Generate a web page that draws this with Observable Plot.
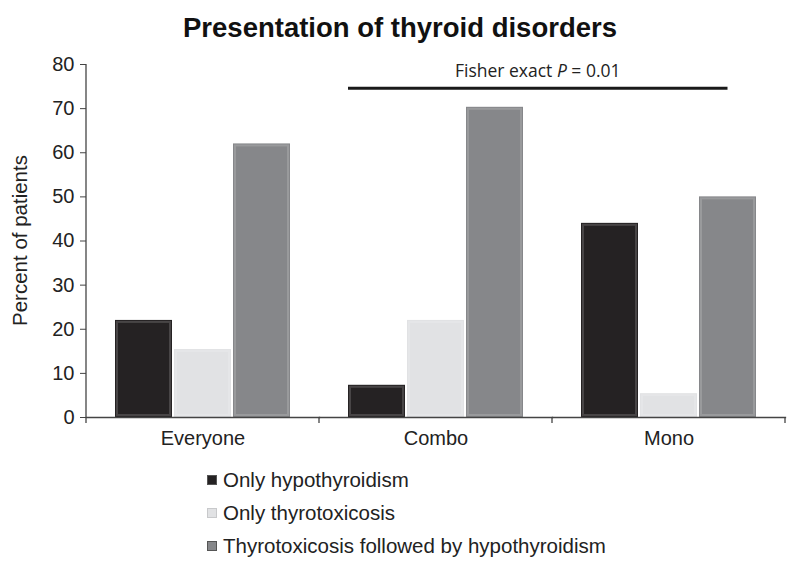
<!DOCTYPE html>
<html><head>
<meta charset="utf-8">
<script src="https://cdn.jsdelivr.net/npm/d3@7"></script>
<script src="https://cdn.jsdelivr.net/npm/@observablehq/plot@0.6"></script>
<style>
body{margin:0;background:#fff;font-family:"Liberation Sans",Arial,sans-serif;color:#222;}
#title{height:50px;line-height:56px;text-align:center;font-weight:bold;font-size:27.5px;color:#111;}
#chart svg{display:block;}
#legend{padding-top:8px;padding-left:207px;font-size:20.5px;}
#legend .row{display:flex;align-items:center;height:33px;}
#legend .sw{width:10px;height:10px;margin-right:6px;box-sizing:border-box;}
</style></head><body>
<div id="title">Presentation of thyroid disorders</div>
<div id="chart"></div>
<div id="legend"></div>
<script>
const groups = ["Everyone", "Combo", "Mono"];
const series = ["Only hypothyroidism", "Only thyrotoxicosis", "Thyrotoxicosis followed by hypothyroidism"];
const onlyHypo = [22, 7.3, 44];
const onlyThyro = [15.4, 22, 5.4];
const thyroThenHypo = [62, 70.3, 50];
const yTicks = [0, 10, 20, 30, 40, 50, 60, 70, 80];
const colors = ["#252223", "#e1e2e4", "#86878a"];
const yLabel = "Percent of patients";
const fisherY = 74.5;
const fisherTextY = 78.3;

const valuesBySeries = [onlyHypo, onlyThyro, thyroThenHypo];
const data = groups.flatMap((g, i) => series.map((s, j) => ({group: g, series: s, value: valuesBySeries[j][i]})));

const plot = Plot.plot({
  width: 800, height: 405,
  marginTop: 14, marginLeft: 86, marginRight: 15, marginBottom: 38,
  style: {fontFamily: "Liberation Sans, Arial, sans-serif", fontSize: "20px", color: "#222", background: "#fff"},
  fx: {domain: groups, paddingInner: 0, paddingOuter: 0, label: null, axis: null},
  x: {domain: series, paddingInner: 0.03, paddingOuter: 0.46, axis: null},
  y: {domain: [0, 80], label: null},
  color: {domain: series, range: colors},
  marks: [
    Plot.barY(data, {fx: "group", x: "series", y: "value", fill: "series"}),
    Plot.barY(data, {fx: "group", x: "series", y: "value", fill: "none", stroke: "#fff", strokeOpacity: 0.16, strokeWidth: 2, inset: 2}),
    Plot.axisY({ticks: yTicks, tickSize: 6, tickPadding: 6, label: null, fontSize: 20, stroke: "#444"}),
    Plot.axisFx({anchor: "bottom", tickSize: 0, tickPadding: 13, label: null, fontSize: 20}),
    Plot.frame({anchor: "bottom", stroke: "#444", strokeWidth: 1.3})
  ]
});

document.getElementById("chart").appendChild(plot);

const fx = plot.scale("fx"), x = plot.scale("x"), y = plot.scale("y");
const svg = d3.select(plot);
const x0 = x.range[0];
const fxPos = g => fx.apply(g);
const xIn = s => x.apply(s) - x0;
const left = fxPos(groups[0]);
const y0 = y.apply(0), yTop = y.apply(80);

// y axis line
svg.append("line").attr("x1", left).attr("x2", left).attr("y1", yTop).attr("y2", y0 + 6)
  .attr("stroke", "#444").attr("stroke-width", 1.3);
// category boundary ticks
groups.forEach(g => {
  const bx = fxPos(g) + fx.bandwidth;
  svg.append("line").attr("x1", bx).attr("x2", bx).attr("y1", y0).attr("y2", y0 + 6)
    .attr("stroke", "#444").attr("stroke-width", 1.3);
});
// y label
svg.append("text").attr("transform", `translate(22,${(y0 + yTop) / 2}) rotate(-90)`)
  .attr("text-anchor", "middle").attr("dominant-baseline", "middle")
  .attr("font-size", 20.5).attr("fill", "#222").text(yLabel);
// Fisher annotation
const fx1 = fxPos(groups[1]) + xIn(series[0]);
const fx2 = fxPos(groups[2]) + xIn(series[2]) + x.bandwidth / 2;
svg.append("line").attr("x1", fx1).attr("x2", fx2).attr("y1", y.apply(fisherY)).attr("y2", y.apply(fisherY))
  .attr("stroke", "#1a1a1a").attr("stroke-width", 3);
const ft = svg.append("text").attr("x", (fx1 + fx2) / 2).attr("y", y.apply(fisherTextY))
  .attr("text-anchor", "middle").attr("dominant-baseline", "middle")
  .attr("font-family", "Open Sans, Liberation Sans, sans-serif").attr("font-size", 17.5).attr("fill", "#222");
ft.append("tspan").text("Fisher exact ");
ft.append("tspan").attr("font-style", "italic").text("P");
ft.append("tspan").text(" = 0.01");

// legend
const lg = d3.select("#legend");
series.forEach((s, i) => {
  const r = lg.append("div").attr("class", "row");
  r.append("div").attr("class", "sw").style("background", colors[i]).style("border", "1px solid " + (i === 1 ? "#c8c9cb" : "#555"));
  r.append("span").text(s);
});
</script>
</body></html>
